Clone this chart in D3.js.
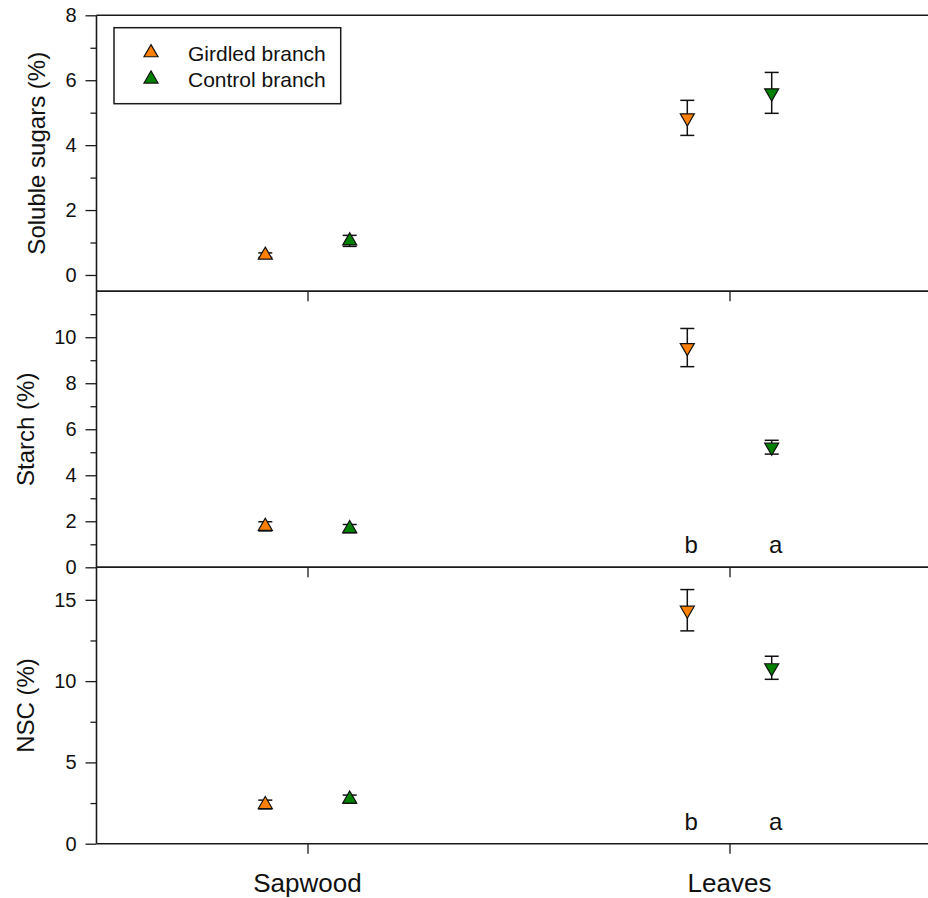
<!DOCTYPE html>
<html>
<head>
<meta charset="utf-8">
<script src="https://cdn.jsdelivr.net/npm/d3@7"></script>
<style>
  html, body { margin: 0; padding: 0; background: #fff; }
  svg { display: block; font-family: "Liberation Sans", Arial, Helvetica, sans-serif; }
</style>
</head>
<body>
<svg id="chart" width="928" height="898"></svg>
<script>
// ---------- data ----------
const categories = ["Sapwood", "Leaves"];
const seriesNames = ["Girdled branch", "Control branch"];
const seriesColors = ["#ff8000", "#008000"];

const panelLabels = ["Soluble sugars (%)", "Starch (%)", "NSC (%)"];

const sugarsGirdled   = [0.61, 4.84];
const sugarsGirdledSE = [0.07, 0.54];
const sugarsControl   = [1.05, 5.61];
const sugarsControlSE = [0.17, 0.63];

const starchGirdled   = [1.78, 9.55];
const starchGirdledSE = [0.20, 0.83];
const starchControl   = [1.68, 5.22];
const starchControlSE = [0.18, 0.30];

const nscGirdled   = [2.41, 14.36];
const nscGirdledSE = [0.27, 1.27];
const nscControl   = [2.74, 10.82];
const nscControlSE = [0.25, 0.71];

// significance letters (per category) for girdled / control
const sugarsLettersG = ["", ""], sugarsLettersC = ["", ""];
const starchLettersG = ["", "b"], starchLettersC = ["", "a"];
const nscLettersG = ["", "b"], nscLettersC = ["", "a"];

const sugarsTicks = [0, 2, 4, 6, 8];
const sugarsMinor = [1, 3, 5, 7];
const starchTicks = [0, 2, 4, 6, 8, 10];
const starchMinor = [1, 3, 5, 7, 9, 11];
const nscTicks = [0, 5, 10, 15];
const nscMinor = [2.5, 7.5, 12.5];

// ---------- layout ----------
const svg = d3.select("#chart");
const W = 928;
const left = 96.5;
const x = d3.scaleLinear().domain([0.5, 2.5]).range([left, 940.5]);
const offset = 0.1;

const panels = [
  { label: panelLabels[0], domain: [-0.5, 8], range: [291.2, 15.3], ticks: sugarsTicks, minor: sugarsMinor,
    g: sugarsGirdled, gse: sugarsGirdledSE, c: sugarsControl, cse: sugarsControlSE,
    lg: sugarsLettersG, lc: sugarsLettersC, labelX: 36 },
  { label: panelLabels[1], domain: [0, 12], range: [567.3, 291.2], ticks: starchTicks, minor: starchMinor,
    g: starchGirdled, gse: starchGirdledSE, c: starchControl, cse: starchControlSE,
    lg: starchLettersG, lc: starchLettersC, labelX: 25 },
  { label: panelLabels[2], domain: [0, 17], range: [843.7, 567.3], ticks: nscTicks, minor: nscMinor,
    g: nscGirdled, gse: nscGirdledSE, c: nscControl, cse: nscControlSE,
    lg: nscLettersG, lc: nscLettersC, labelX: 25 }
];

const axisColor = "#1a1a1a";
const sym = d3.symbol().type(d3.symbolTriangle).size(85);

panels.forEach((p, pi) => {
  const y = d3.scaleLinear().domain(p.domain).range(p.range);
  const g = svg.append("g");

  // minor ticks
  g.append("g").attr("transform", `translate(${left},0)`)
    .call(d3.axisLeft(y).tickValues(p.minor).tickSize(6).tickSizeOuter(0).tickFormat(""))
    .call(a => a.select(".domain").remove())
    .call(a => a.selectAll("line").attr("stroke", axisColor).attr("stroke-width", 1.3));

  // major ticks
  g.append("g").attr("transform", `translate(${left},0)`)
    .call(d3.axisLeft(y).tickValues(p.ticks).tickSize(11).tickPadding(9).tickFormat(d3.format("d")))
    .call(a => a.select(".domain").remove())
    .call(a => a.selectAll("line").attr("stroke", axisColor).attr("stroke-width", 1.3))
    .call(a => a.selectAll("text").attr("font-size", 20).attr("fill", "#111")
      .attr("font-family", "'Liberation Sans', Arial, sans-serif"));

  // bottom category ticks
  g.append("g").attr("transform", `translate(0,${p.range[0]})`)
    .call(d3.axisBottom(x).tickValues([1, 2]).tickSize(10).tickFormat(""))
    .call(a => a.select(".domain").remove())
    .call(a => a.selectAll("line").attr("stroke", axisColor).attr("stroke-width", 1.3));

  // top & bottom frame lines
  [p.range[0], p.range[1]].forEach(yy => {
    g.append("line").attr("x1", left).attr("x2", W).attr("y1", yy).attr("y2", yy)
      .attr("stroke", axisColor).attr("stroke-width", 1.6);
  });

  // y label
  g.append("text")
    .attr("transform", `translate(${p.labelX},${(p.range[0] + p.range[1]) / 2}) rotate(-90)`)
    .attr("text-anchor", "middle").attr("dominant-baseline", "central")
    .attr("font-size", 24).attr("fill", "#111").text(p.label);

  // series
  const ser = [
    { m: p.g, se: p.gse, color: seriesColors[0], off: -offset, letters: p.lg },
    { m: p.c, se: p.cse, color: seriesColors[1], off: offset, letters: p.lc }
  ];
  ser.forEach(s => {
    categories.forEach((cat, ci) => {
      const cx = x(ci + 1 + s.off);
      const cy = y(s.m[ci]);
      const yt = y(s.m[ci] + s.se[ci]), yb = y(s.m[ci] - s.se[ci]);
      const eb = g.append("g").attr("stroke", "#111").attr("stroke-width", 1.5);
      eb.append("line").attr("x1", cx).attr("x2", cx).attr("y1", yt).attr("y2", yb);
      eb.append("line").attr("x1", cx - 7).attr("x2", cx + 7).attr("y1", yt).attr("y2", yt);
      eb.append("line").attr("x1", cx - 7).attr("x2", cx + 7).attr("y1", yb).attr("y2", yb);
      const rot = ci === 0 ? 0 : 180; // sapwood: up triangles, leaves: down triangles
      g.append("path").attr("d", sym())
        .attr("transform", `translate(${cx},${cy}) rotate(${rot})`)
        .attr("fill", s.color).attr("stroke", "#111").attr("stroke-width", 1.2);
      if (s.letters[ci]) {
        g.append("text").attr("x", cx + 4).attr("y", p.range[0] - 14)
          .attr("text-anchor", "middle").attr("font-size", 24).attr("fill", "#111")
          .text(s.letters[ci]);
      }
    });
  });
});

// left axis line
svg.append("line").attr("x1", left).attr("x2", left).attr("y1", 15.3).attr("y2", 843.7)
  .attr("stroke", axisColor).attr("stroke-width", 1.6);

// x category labels
const xl = svg.append("g");
categories.forEach((c, i) => {
  xl.append("text").attr("x", x(i + 1)).attr("y", 892)
    .attr("text-anchor", "middle").attr("font-size", 26).attr("fill", "#111").text(c);
});

// legend
const lg = svg.append("g");
lg.append("rect").attr("x", 114).attr("y", 27.7).attr("width", 226.7).attr("height", 76)
  .attr("fill", "#fff").attr("stroke", axisColor).attr("stroke-width", 1.5);
seriesNames.forEach((n, i) => {
  const yy = 52.7 + i * 26.3;
  lg.append("path").attr("d", sym()).attr("transform", `translate(151,${yy})`)
    .attr("fill", seriesColors[i]).attr("stroke", "#111").attr("stroke-width", 1.2);
  lg.append("text").attr("x", 188).attr("y", yy + 8).attr("font-size", 21).attr("fill", "#111").text(n);
});
</script>
</body>
</html>
